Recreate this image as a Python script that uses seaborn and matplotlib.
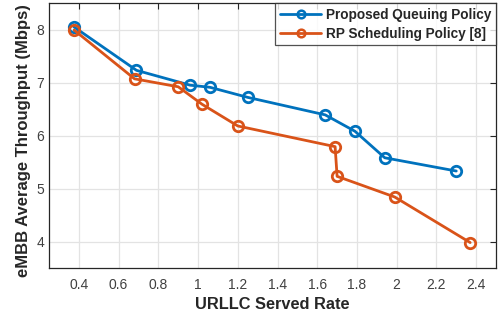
import matplotlib
matplotlib.use("Agg")
import matplotlib.pyplot as plt
import seaborn as sns
import pandas as pd

# URLLC served rate vs. eMBB average throughput for the two policies
proposed_rate = [0.375, 0.69, 0.96, 1.06, 1.25, 1.64, 1.79, 1.94, 2.30]
proposed_tput = [8.05, 7.23, 6.95, 6.91, 6.72, 6.39, 6.08, 5.58, 5.33]
rp_rate = [0.376, 0.68, 0.90, 1.02, 1.20, 1.69, 1.70, 1.99, 2.37]
rp_tput = [7.99, 7.07, 6.92, 6.59, 6.18, 5.79, 5.23, 4.84, 3.98]

series_names = ["Proposed Queuing Policy", "RP Scheduling Policy [8]"]
x_ticks = [0.4, 0.6, 0.8, 1.0, 1.2, 1.4, 1.6, 1.8, 2.0, 2.2, 2.4]
x_tick_labels = ["0.4", "0.6", "0.8", "1", "1.2", "1.4", "1.6", "1.8", "2", "2.2", "2.4"]
y_ticks = [4, 5, 6, 7, 8]

df = pd.concat([
    pd.DataFrame({"rate": proposed_rate, "tput": proposed_tput, "policy": series_names[0]}),
    pd.DataFrame({"rate": rp_rate, "tput": rp_tput, "policy": series_names[1]}),
], ignore_index=True)

sns.set_style("white")
plt.rcParams["font.family"] = ["Liberation Sans", "DejaVu Sans"]

fig = plt.figure(figsize=(5.01, 3.20), dpi=100)
ax = fig.add_axes([0.098, 0.1625, 0.892, 0.828])

palette = {series_names[0]: "#0072BD", series_names[1]: "#D95319"}
sns.lineplot(data=df, x="rate", y="tput", hue="policy", palette=palette,
             sort=False, estimator=None, ax=ax, linewidth=2.0,
             marker="o", markersize=7.5, markerfacecolor="none",
             markeredgewidth=2.0)
for line in ax.lines:
    line.set_markeredgecolor(line.get_color())
    line.set_markerfacecolor("none")

ax.set_xlim(0.25, 2.5)
ax.set_ylim(3.5, 8.5)
ax.set_xticks(x_ticks)
ax.set_xticklabels(x_tick_labels)
ax.set_yticks(y_ticks)

ax.grid(True, color="#e3e3e3", linewidth=0.9)
ax.set_axisbelow(True)
for side in ["top", "right", "bottom", "left"]:
    ax.spines[side].set_visible(True)
    ax.spines[side].set_color("#262626")
    ax.spines[side].set_linewidth(0.9)
ax.tick_params(axis="both", direction="in", length=4, width=0.8,
               colors="#262626", labelsize=10, top=True, right=True,
               labelcolor="#404040")
ax.tick_params(axis="x", pad=7)

ax.set_xlabel("URLLC Served Rate", fontsize=11.8, fontweight="bold", color="#262626", labelpad=4)
ax.set_ylabel("eMBB Average Throughput (Mbps)", fontsize=12, fontweight="bold", color="#262626")
ax.yaxis.set_label_coords(-0.041, 0.48)

handles, labels = ax.get_legend_handles_labels()
for h in handles:
    h.set_markerfacecolor("none")
    h.set_markeredgecolor(h.get_color())
    h.set_markersize(5.5)
    h.set_markeredgewidth(1.8)
leg = ax.legend(handles, labels, loc="upper right", bbox_to_anchor=(1.0, 1.0),
                prop={"weight": "bold", "size": 9.8}, frameon=True, fancybox=False,
                borderaxespad=0, handlelength=3.0, handletextpad=0.35,
                borderpad=0.35, labelspacing=0.35, title=None)
leg.get_frame().set_edgecolor("#262626")
leg.get_frame().set_linewidth(0.9)

fig.savefig("out.png", dpi=100)
